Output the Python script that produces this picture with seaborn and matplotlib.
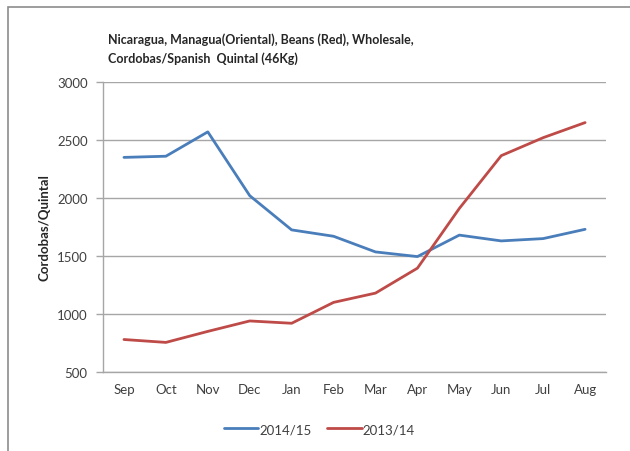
import numpy as np
import pandas as pd
import matplotlib
matplotlib.use("Agg")
import matplotlib.pyplot as plt
import seaborn as sns
from matplotlib.patches import Rectangle

# --- data ---
months = ["Sep", "Oct", "Nov", "Dec", "Jan", "Feb", "Mar", "Apr", "May", "Jun", "Jul", "Aug"]
season_1415 = [2350, 2360, 2570, 2020, 1725, 1670, 1535, 1495, 1680, 1630, 1650, 1730]
season_1314 = [780, 755, 850, 940, 920, 1100, 1180, 1395, 1910, 2365, 2520, 2650]
series_names = ["2014/15", "2013/14"]
y_ticks = [500, 1000, 1500, 2000, 2500, 3000]

df = pd.DataFrame({
    "month": months * 2,
    "price": season_1415 + season_1314,
    "season": [series_names[0]] * len(months) + [series_names[1]] * len(months),
})

sns.set_theme(style="white")
plt.rcParams["font.family"] = ["Lato", "DejaVu Sans"]

fig = plt.figure(figsize=(6.3, 4.52), dpi=100)
ax = fig.add_axes([0.1635, 0.1748, 0.7985, 0.6416])

colors = {"2014/15": "#4A7EBB", "2013/14": "#BE4B48"}
sns.lineplot(data=df, x="month", y="price", hue="season", palette=colors,
             sort=False, linewidth=2.0, ax=ax, legend=True)

ax.set_xlim(-0.5, 11.5)
ax.set_ylim(500, 3000)
ax.set_yticks(y_ticks)
ax.set_xticks(np.arange(-0.5, 12, 1), minor=True)
ax.yaxis.grid(True, color="#A6A6A6", linewidth=1.0)
ax.set_axisbelow(True)

for s in ["top", "right"]:
    ax.spines[s].set_visible(False)
for s in ["left", "bottom"]:
    ax.spines[s].set_color("#A6A6A6")
    ax.spines[s].set_linewidth(1.0)

ax.tick_params(axis="x", which="major", length=0, pad=8, labelsize=9.5, labelcolor="#404040")
ax.tick_params(axis="x", which="minor", length=4, color="#A6A6A6", width=1.0)
ax.tick_params(axis="y", which="major", length=5, color="#A6A6A6", width=1.0,
               labelsize=9.5, labelcolor="#404040", pad=6, left=True)

ax.set_xlabel("")
ax.set_ylabel("Cordobas/Quintal", fontsize=9.5, fontweight="bold", labelpad=5)

fig.text(108 / 630, 1 - 49 / 452, "Nicaragua, Managua(Oriental), Beans (Red), Wholesale,\nCordobas/Spanish  Quintal (46Kg)",
         fontsize=9, fontweight="bold", va="center", ha="left", linespacing=1.55)

ax.legend(loc="upper center", bbox_to_anchor=(0.43, -0.135), ncol=2, frameon=False,
          fontsize=9.5, handlelength=2.6, handletextpad=0.1, columnspacing=1.2,
          labelcolor="#404040")

# outer chart frame
fig.patches.append(Rectangle((8 / 630, -0.05), 1.0, 1 - 8 / 452 + 0.05, transform=fig.transFigure,
                             fill=False, edgecolor="#8C8C8C", linewidth=1.2))

fig.savefig("out.png", dpi=100)
